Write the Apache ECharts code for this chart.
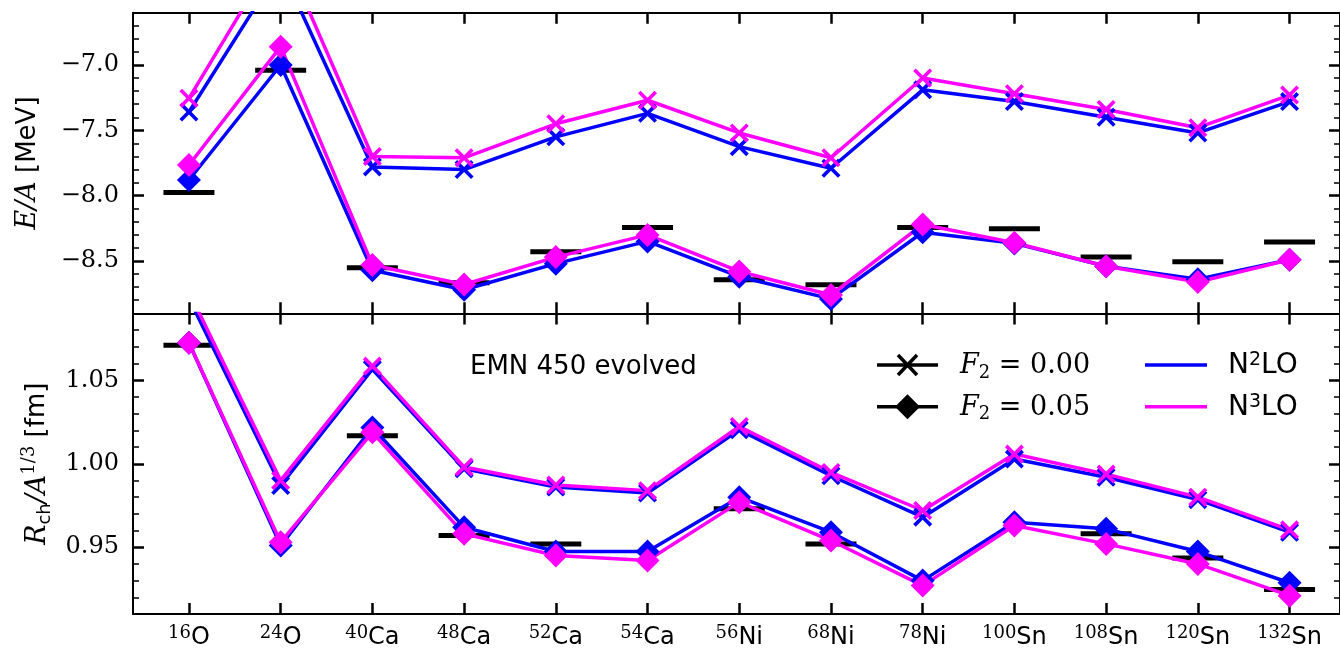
<!DOCTYPE html>
<html>
<head>
<meta charset="utf-8">
<script src="https://cdn.jsdelivr.net/npm/echarts@6/dist/echarts.min.js"></script>
<style>
  html, body { margin: 0; padding: 0; background: #fff; }
  #chart { width: 1340px; height: 650px; }
</style>
</head>
<body>
<div id="chart"></div>
<script>
// nuclei on the x axis
const massNumbers = ['16', '24', '40', '48', '52', '54', '56', '68', '78', '100', '108', '120', '132'];
const elements = ['O', 'O', 'Ca', 'Ca', 'Ca', 'Ca', 'Ni', 'Ni', 'Ni', 'Sn', 'Sn', 'Sn', 'Sn'];

// E/A [MeV]
const energyN2loF0 = [-7.36, -6.25, -7.78, -7.80, -7.55, -7.37, -7.625, -7.79, -7.19, -7.28, -7.40, -7.52, -7.28];
const energyN3loF0 = [-7.255, -6.09, -7.70, -7.71, -7.45, -7.27, -7.52, -7.71, -7.10, -7.22, -7.34, -7.48, -7.23];
const energyN2loF5 = [-7.88, -7.00, -8.57, -8.72, -8.52, -8.35, -8.62, -8.79, -8.28, -8.365, -8.54, -8.64, -8.49];
const energyN3loF5 = [-7.765, -6.86, -8.53, -8.68, -8.47, -8.30, -8.58, -8.76, -8.22, -8.36, -8.54, -8.66, -8.49];
const energyExp = [-7.976, -7.04, -8.551, -8.667, -8.429, -8.244, -8.643, -8.682, -8.243, -8.253, -8.469, -8.505, -8.355];

// R_ch / A^(1/3) [fm]
const radiusN2loF0 = [1.099, 0.987, 1.0566, 0.997, 0.986, 0.9825, 1.0203, 0.9928, 0.968, 1.0028, 0.9919, 0.9785, 0.959];
const radiusN3loF0 = [1.103, 0.990, 1.0585, 0.998, 0.9873, 0.9839, 1.0223, 0.9948, 0.972, 1.0058, 0.9938, 0.980, 0.9604];
const radiusN2loF5 = [1.0725, 0.951, 1.0217, 0.962, 0.9474, 0.9474, 0.980, 0.959, 0.930, 0.965, 0.961, 0.9474, 0.9287];
const radiusN3loF5 = [1.0725, 0.953, 1.0188, 0.958, 0.945, 0.942, 0.977, 0.954, 0.927, 0.963, 0.952, 0.940, 0.921];
const radiusExp = [1.071, null, 1.0167, 0.957, 0.952, null, 0.973, 0.952, null, null, 0.958, 0.9435, 0.9247];

// ticks
const energyTicks = [-8.5, -8.0, -7.5, -7.0];
const energyMinorTicks = [-8.8, -8.7, -8.6, -8.4, -8.3, -8.2, -8.1, -7.9, -7.8, -7.7, -7.6, -7.4, -7.3, -7.2, -7.1, -6.9, -6.8, -6.7];
const radiusTicks = [0.95, 1.00, 1.05];
const radiusMinorTicks = [0.92, 0.93, 0.94, 0.96, 0.97, 0.98, 0.99, 1.01, 1.02, 1.03, 1.04, 1.06, 1.07, 1.08];

const BLUE = '#0000ff';
const MAGENTA = '#ff00ff';
const SERIF = 'DejaVu Serif';
const SANS = 'DejaVu Sans';
const crossPath = 'path://M0,1.35L1.35,0L5,3.65L8.65,0L10,1.35L6.35,5L10,8.65L8.65,10L5,6.35L1.35,10L0,8.65L3.65,5Z';
const catIndex = massNumbers.map((_, i) => i);

const pair = arr => arr.map((v, i) => [i, v]).filter(d => d[1] !== null);

const chart = echarts.init(document.getElementById('chart'));

function xAxes(grid, withLabels) {
  const base = {
    gridIndex: grid,
    type: 'value',
    min: -0.61,
    max: 12.55,
    axisLine: { show: true, onZero: false, lineStyle: { color: '#000', width: 2 } },
    axisTick: { show: true, inside: true, length: 11, customValues: catIndex, lineStyle: { color: '#000', width: 2.5 } },
    splitLine: { show: false }
  };
  return [
    {
      ...base,
      position: 'bottom',
      axisLabel: withLabels ? {
        show: true,
        customValues: catIndex,
        margin: 10,
        formatter: v => '{sup|' + massNumbers[Math.round(v)] + '}{el|' + elements[Math.round(v)] + '}',
        rich: {
          sup: { fontFamily: SERIF, fontSize: 18, color: '#000', lineHeight: 16, verticalAlign: 'top' },
          el: { fontFamily: SANS, fontSize: 24, color: '#000', lineHeight: 28 }
        }
      } : { show: false }
    },
    { ...base, position: 'top', axisLabel: { show: false } }
  ];
}

function yAxes(grid, min, max, major, minor, fmt, name, nameGap, rich) {
  const base = {
    gridIndex: grid,
    type: 'value',
    min: min,
    max: max,
    splitLine: { show: false }
  };
  const majorTick = { show: true, inside: true, length: 11, customValues: major, lineStyle: { color: '#000', width: 2.5 } };
  const minorTick = { show: true, inside: true, length: 6, customValues: minor, lineStyle: { color: '#000', width: 1.5 } };
  return [
    {
      ...base,
      position: 'left',
      axisLine: { show: true, onZero: false, lineStyle: { color: '#000', width: 2 } },
      axisTick: majorTick,
      axisLabel: {
        show: true, customValues: major, margin: 14, formatter: fmt,
        fontFamily: SERIF, fontSize: 24, color: '#000'
      },
      name: name,
      nameLocation: 'middle',
      nameGap: nameGap,
      nameTextStyle: { rich: rich }
    },
    { ...base, position: 'left', axisLine: { show: false, onZero: false }, axisTick: minorTick, axisLabel: { show: false } },
    {
      ...base,
      position: 'right',
      axisLine: { show: true, onZero: false, lineStyle: { color: '#000', width: 2 } },
      axisTick: majorTick,
      axisLabel: { show: false }
    },
    { ...base, position: 'right', axisLine: { show: false, onZero: false }, axisTick: minorTick, axisLabel: { show: false } }
  ];
}

function panelSeries(grid, exp, n2f0, n3f0, n2f5, n3f5) {
  const xi = grid * 2;
  const yi = grid * 4;
  const line = (data, color, symbol, size) => ({
    type: 'line',
    xAxisIndex: xi,
    yAxisIndex: yi,
    data: pair(data),
    symbol: symbol,
    symbolSize: size,
    showAllSymbol: true,
    lineStyle: { color: color, width: 3.5 },
    itemStyle: { color: color, opacity: 1 },
    z: 3
  });
  return [
    {
      type: 'scatter',
      xAxisIndex: xi,
      yAxisIndex: yi,
      data: pair(exp),
      symbol: 'rect',
      symbolSize: [51, 5],
      itemStyle: { color: '#000', opacity: 1 },
      z: 2
    },
    line(n2f0, BLUE, crossPath, 19),
    line(n2f5, BLUE, 'diamond', 24),
    line(n3f0, MAGENTA, crossPath, 19),
    line(n3f5, MAGENTA, 'diamond', 24)
  ];
}

const energyName = '{i|E/A}{n| [MeV]}';
const energyRich = {
  i: { fontFamily: SERIF, fontStyle: 'italic', fontSize: 27, color: '#000', lineHeight: 32 },
  n: { fontFamily: SANS, fontSize: 26, color: '#000', lineHeight: 32 }
};
const radiusName = '{i|R}{sub|ch}{i|/A}{sup|1/3}{n| [fm]}';
const radiusRich = {
  i: { fontFamily: SERIF, fontStyle: 'italic', fontSize: 27, color: '#000', lineHeight: 34 },
  sub: { fontFamily: SANS, fontSize: 18, color: '#000', lineHeight: 18, verticalAlign: 'bottom' },
  sup: { fontFamily: SERIF, fontSize: 18, color: '#000', lineHeight: 18, verticalAlign: 'top' },
  n: { fontFamily: SANS, fontSize: 26, color: '#000', lineHeight: 34 }
};

const legendRich = {
  i: { fontFamily: SERIF, fontStyle: 'italic', fontSize: 27, color: '#000', lineHeight: 32 },
  sub: { fontFamily: SERIF, fontSize: 18, color: '#000', lineHeight: 18, verticalAlign: 'bottom' },
  n: { fontFamily: SERIF, fontSize: 27, color: '#000', lineHeight: 32 }
};
const orderRich = {
  n: { fontFamily: SANS, fontSize: 28, color: '#000', lineHeight: 30 },
  sup: { fontFamily: SANS, fontSize: 19, color: '#000', lineHeight: 18, verticalAlign: 'top' }
};

const option = {
  animation: false,
  backgroundColor: '#fff',
  grid: [
    { left: 133, right: 0, top: 12.7, height: 300.6 },
    { left: 133, right: 0, top: 313.5, height: 301.5 }
  ],
  xAxis: [...xAxes(0, false), ...xAxes(1, true)],
  yAxis: [
    ...yAxes(0, -8.9, -6.6, energyTicks, energyMinorTicks,
      v => (v < 0 ? '\u2212' : '') + Math.abs(v).toFixed(1), energyName, 89, energyRich),
    ...yAxes(1, 0.91, 1.09, radiusTicks, radiusMinorTicks,
      v => v.toFixed(2), radiusName, 76, radiusRich)
  ],
  series: [
    ...panelSeries(0, energyExp, energyN2loF0, energyN3loF0, energyN2loF5, energyN3loF5),
    ...panelSeries(1, radiusExp, radiusN2loF0, radiusN3loF0, radiusN2loF5, radiusN3loF5)
  ],
  graphic: [
    { type: 'text', x: 470, y: 367, style: { text: 'EMN 450 evolved', fontFamily: SANS, fontSize: 26, fill: '#000', verticalAlign: 'middle' } },
    // F2 = 0.00 entry
    { type: 'line', shape: { x1: 877, y1: 365, x2: 938, y2: 365 }, style: { stroke: '#000', lineWidth: 3.5 } },
    { type: 'line', shape: { x1: 898, y1: 355, x2: 917, y2: 375 }, style: { stroke: '#000', lineWidth: 3.5 } },
    { type: 'line', shape: { x1: 898, y1: 375, x2: 917, y2: 355 }, style: { stroke: '#000', lineWidth: 3.5 } },
    { type: 'text', x: 960, y: 366, style: { text: '{i|F}{sub|2}{n| = 0.00}', rich: legendRich, verticalAlign: 'middle' } },
    // F2 = 0.05 entry
    { type: 'line', shape: { x1: 877, y1: 406.7, x2: 938, y2: 406.7 }, style: { stroke: '#000', lineWidth: 3.5 } },
    { type: 'polygon', shape: { points: [[907.5, 394.2], [920, 406.7], [907.5, 419.2], [895, 406.7]] }, style: { fill: '#000' } },
    { type: 'text', x: 960, y: 407.5, style: { text: '{i|F}{sub|2}{n| = 0.05}', rich: legendRich, verticalAlign: 'middle' } },
    // N2LO / N3LO entries
    { type: 'line', shape: { x1: 1145, y1: 365, x2: 1207, y2: 365 }, style: { stroke: BLUE, lineWidth: 3.5 } },
    { type: 'text', x: 1228, y: 366, style: { text: '{n|N}{sup|2}{n|LO}', rich: orderRich, verticalAlign: 'middle' } },
    { type: 'line', shape: { x1: 1145, y1: 406.7, x2: 1207, y2: 406.7 }, style: { stroke: MAGENTA, lineWidth: 3.5 } },
    { type: 'text', x: 1228, y: 407.5, style: { text: '{n|N}{sup|3}{n|LO}', rich: orderRich, verticalAlign: 'middle' } }
  ]
};

chart.setOption(option);
window.addEventListener('resize', () => chart.resize());
</script>
</body>
</html>
